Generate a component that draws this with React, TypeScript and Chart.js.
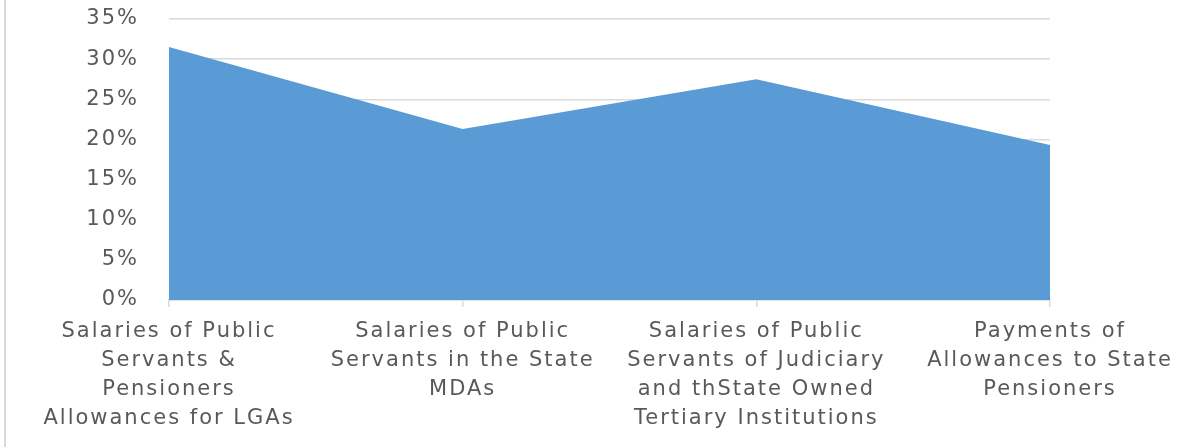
import React, { useEffect, useRef } from "react";
import { Chart, registerables } from "chart.js";

Chart.register(...registerables);

const categories: string[][] = [
  ["Salaries of Public", "Servants &", "Pensioners", "Allowances for LGAs"],
  ["Salaries of Public", "Servants in the State", "MDAs"],
  ["Salaries of Public", "Servants of Judiciary", "and thState Owned", "Tertiary Institutions"],
  ["Payments of", "Allowances to State", "Pensioners"],
];
const shares: number[] = [31.5, 21.3, 27.5, 19.3];
const yMin = 0;
const yMax = 35;
const yStep = 5;

const FONT = "'DejaVu Sans', Verdana, sans-serif";
const TEXT = "#595959";
const GRID = "#d9d9d9";

const letterSpacingPlugin = {
  id: "letterSpacing",
  beforeUpdate(chart: any) {
    try {
      (chart.ctx as any).letterSpacing = "2px";
    } catch (e) {}
  },
};

export default function App() {
  const ref = useRef<HTMLCanvasElement | null>(null);
  useEffect(() => {
    if (!ref.current) return;
    const chart = new Chart(ref.current, {
      type: "line",
      data: {
        labels: categories as any,
        datasets: [
          {
            data: shares,
            fill: "origin",
            backgroundColor: "#5B9BD5",
            borderWidth: 0,
            borderColor: "#5B9BD5",
            pointRadius: 0,
            tension: 0,
          },
        ],
      },
      plugins: [letterSpacingPlugin],
      options: {
        animation: false,
        responsive: false,
        layout: { padding: { left: 0, right: 151, top: 19, bottom: 0 } },
        plugins: { legend: { display: false }, tooltip: { enabled: false } },
        scales: {
          x: {
            offset: false,
            grid: {
              drawOnChartArea: false,
              drawTicks: true,
              tickLength: 7,
              color: GRID,
              lineWidth: 1.5,
            },
            border: { display: true, color: GRID, width: 1.5 },
            ticks: {
              color: TEXT,
              font: { family: FONT, size: 21, lineHeight: "29px" as any },
              padding: 10,
              maxRotation: 0,
              minRotation: 0,
              autoSkip: false,
            },
            afterFit(scale: any) {
              scale.height = 147;
              scale.paddingTop = 0;
              scale.paddingBottom = 0;
              scale.paddingLeft = 0;
              scale.paddingRight = 0;
            },
          },
          y: {
            min: yMin,
            max: yMax,
            grid: { color: GRID, lineWidth: 1.5, drawTicks: false },
            border: { display: false },
            ticks: {
              stepSize: yStep,
              color: TEXT,
              font: { family: FONT, size: 21 },
              padding: 30,
              callback: (v: any) => `${v}%`,
            },
            afterFit(scale: any) {
              scale.width = 169;
              scale.paddingTop = 0;
              scale.paddingBottom = 0;
              scale.paddingLeft = 0;
              scale.paddingRight = 0;
            },
          },
        },
      },
    });
    return () => chart.destroy();
  }, []);
  return (
    <div style={{ position: "fixed", left: 0, top: 0, width: 1201, height: 447, background: "#fff" }}>
      <div style={{ position: "absolute", left: 4, top: 0, width: 2, height: 447, background: GRID }} />
      <canvas ref={ref} width={1201} height={447} style={{ position: "absolute", left: 0, top: 0 }} />
    </div>
  );
}
